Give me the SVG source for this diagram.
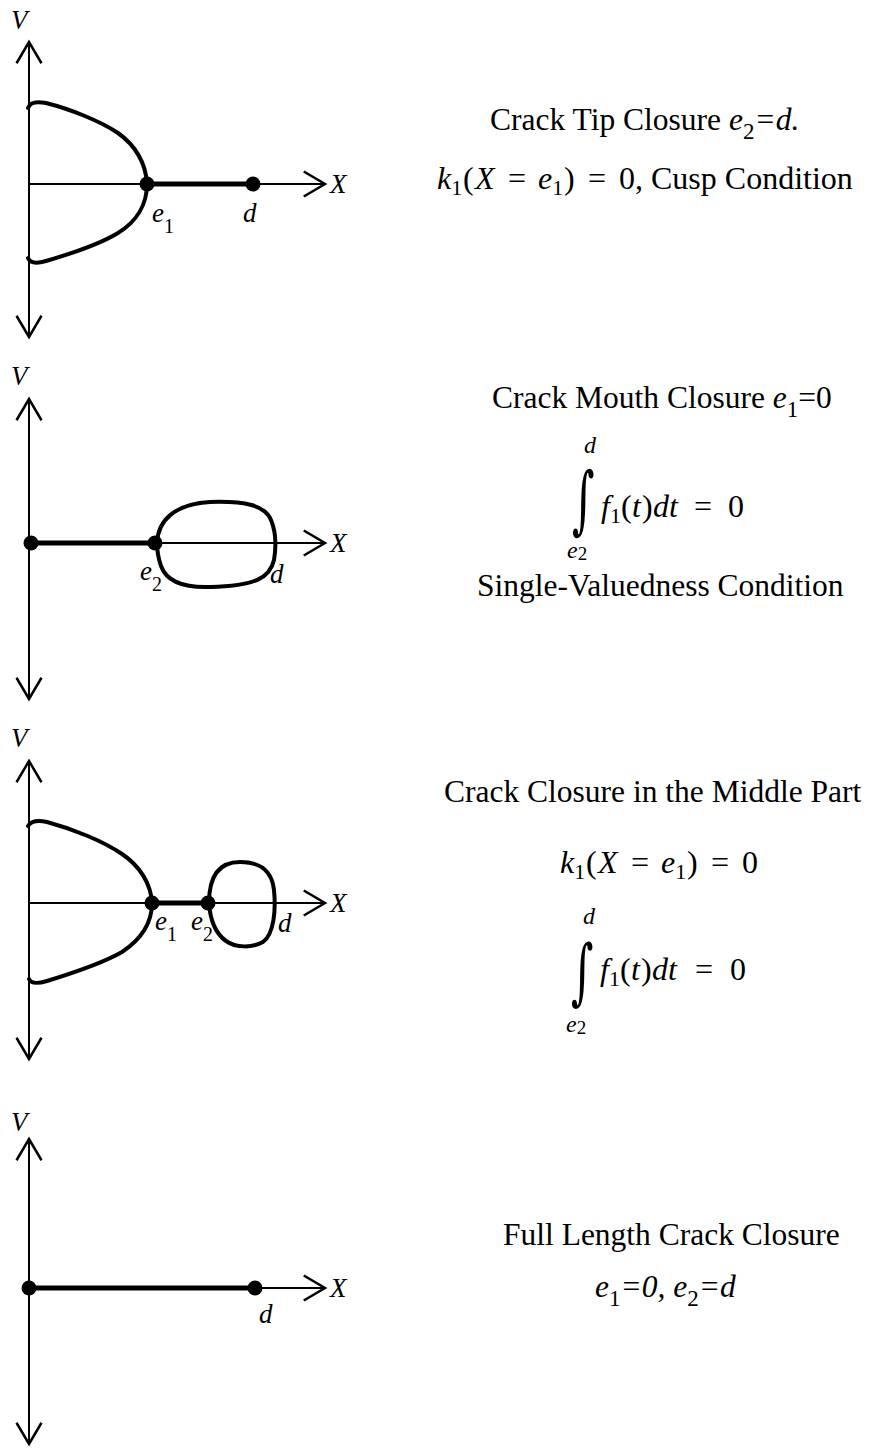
<svg xmlns="http://www.w3.org/2000/svg" width="870" height="1448" viewBox="0 0 870 1448">
<style>
  .ax{stroke:#000;stroke-width:2;fill:none}
  .thick{stroke:#000;stroke-width:5;fill:none}
  .crv{stroke:#000;stroke-width:4;fill:none;stroke-linejoin:round;stroke-linecap:round}
  .dot{fill:#000}
  .lbl{font-family:"Liberation Serif",serif;font-style:italic;font-size:27px;fill:#000}
  .sub{font-style:normal;font-size:20px}
  .t{font-family:"Liberation Serif",serif;font-size:31.5px;fill:#000}
  .ts{font-size:23px;font-style:normal}
  .m{font-family:"Liberation Serif",serif;font-size:32px;fill:#000}
  .i{font-style:italic}
  .ms{font-size:22px;font-style:normal}
  .lim{font-family:"Liberation Serif",serif;font-size:24px;font-style:italic;fill:#000}
  .lims{font-size:19px;font-style:normal}
  .int{font-family:"DejaVu Serif",serif;font-size:60px;fill:#000}
</style>
<defs>
  <marker id="arr" markerUnits="userSpaceOnUse" markerWidth="30" markerHeight="30" viewBox="-20 -12 24 24" refX="0" refY="0" orient="auto-start-reverse">
    <path d="M-17,-10 L0,0 L-17,10" stroke="#000" stroke-width="2" fill="none"/>
  </marker>
</defs>
<rect width="870" height="1448" fill="#fff"/>

<g id="axes">
  <line class="ax" x1="29" y1="42" x2="29" y2="337" marker-start="url(#arr)" marker-end="url(#arr)"/>
  <line class="ax" x1="29" y1="184" x2="325" y2="184" marker-end="url(#arr)"/>
  <line class="ax" x1="29" y1="399" x2="29" y2="699" marker-start="url(#arr)" marker-end="url(#arr)"/>
  <line class="ax" x1="29" y1="543" x2="325" y2="543" marker-end="url(#arr)"/>
  <line class="ax" x1="29" y1="761" x2="29" y2="1059" marker-start="url(#arr)" marker-end="url(#arr)"/>
  <line class="ax" x1="29" y1="903" x2="325" y2="903" marker-end="url(#arr)"/>
  <line class="ax" x1="29" y1="1139" x2="29" y2="1444" marker-start="url(#arr)" marker-end="url(#arr)"/>
  <line class="ax" x1="29" y1="1288" x2="325" y2="1288" marker-end="url(#arr)"/>
</g>

<g id="panel1">
  <path class="crv" d="M28,108 C30,102 36,101 46,103 C70,109 100,121 118,133 C135,145 146,163 147,184 C147,205 136,222 118,233 C100,244 70,254 46,261 C36,264 30,263 28,258"/>
  <line class="thick" x1="147" y1="184" x2="253" y2="184"/>
  <circle class="dot" cx="147" cy="184" r="7.5"/>
  <circle class="dot" cx="253" cy="184" r="7.5"/>
  <text class="lbl" x="11" y="29">V</text>
  <text class="lbl" x="330" y="193">X</text>
  <text class="lbl" x="152" y="222">e<tspan class="sub" dy="11">1</tspan></text>
  <text class="lbl" x="243" y="222">d</text>
  <text class="t" x="490" y="130">Crack Tip Closure <tspan class="i">e</tspan><tspan class="ts" dy="9">2</tspan><tspan class="i" dy="-9">=d.</tspan></text>
  <text class="m" y="189"><tspan class="i" x="437">k</tspan><tspan class="ms" dy="6">1</tspan><tspan x="463" dy="-6">(</tspan><tspan class="i" x="475">X</tspan><tspan x="508">=</tspan><tspan class="i" x="538">e</tspan><tspan class="ms" dy="6">1</tspan><tspan x="564" dy="-6">)</tspan><tspan x="588">=</tspan><tspan x="619">0</tspan><tspan x="635">, Cusp Condition</tspan></text>
</g>

<g id="panel2">
  <line class="thick" x1="31" y1="543" x2="155" y2="543"/>
  <path class="crv" d="M157,543 C158,520 175,504 210,502 C245,501 265,505 271,520 C276,532 276,548 274,560 C270,578 255,586 210,587 C180,588 166,580 161,566 C158,557 157,550 157,543 Z"/>
  <circle class="dot" cx="31" cy="543" r="7.5"/>
  <circle class="dot" cx="155" cy="543" r="7.5"/>
  <text class="lbl" x="11" y="385">V</text>
  <text class="lbl" x="330" y="552">X</text>
  <text class="lbl" x="140" y="580">e<tspan class="sub" dy="11">2</tspan></text>
  <text class="lbl" x="270" y="583">d</text>
  <text class="t" x="492" y="408">Crack Mouth Closure <tspan class="i">e</tspan><tspan class="ts" dy="9">1</tspan><tspan dy="-9">=0</tspan></text>
  <text class="int" transform="translate(572,525) scale(0.72,1.24)">∫</text>
  <text class="lim" x="584" y="453">d</text>
  <text class="lim" x="567" y="558">e<tspan class="lims" dy="2">2</tspan></text>
  <text class="m" y="517"><tspan class="i" x="601">f</tspan><tspan class="ms" dy="6">1</tspan><tspan x="621" dy="-6">(</tspan><tspan class="i" x="632">t</tspan><tspan x="642">)</tspan><tspan class="i" x="653">dt</tspan><tspan x="694">=</tspan><tspan x="728">0</tspan></text>
  <text class="t" x="477" y="596">Single-Valuedness Condition</text>
</g>

<g id="panel3">
  <path class="crv" d="M28,826 C31,821 37,820 47,822 C73,829 103,841 122,854 C140,866 151,884 152,903 C152,924 140,940 122,952 C103,963 73,973 47,981 C37,984 31,984 29,979"/>
  <line class="thick" x1="152" y1="903" x2="208" y2="903"/>
  <path class="crv" d="M209,903 C209,880 216,862 240,862 C262,862 272,872 274,890 C276,910 274,934 263,942 C252,948 236,948 226,941 C215,933 210,918 209,903 Z"/>
  <circle class="dot" cx="152" cy="903" r="7.5"/>
  <circle class="dot" cx="208" cy="903" r="7.5"/>
  <text class="lbl" x="11" y="747">V</text>
  <text class="lbl" x="330" y="912">X</text>
  <text class="lbl" x="155" y="930">e<tspan class="sub" dy="11">1</tspan></text>
  <text class="lbl" x="191" y="930">e<tspan class="sub" dy="11">2</tspan></text>
  <text class="lbl" x="278" y="932">d</text>
  <text class="t" x="444" y="802">Crack Closure in the Middle Part</text>
  <text class="m" y="873"><tspan class="i" x="560">k</tspan><tspan class="ms" dy="6">1</tspan><tspan x="586" dy="-6">(</tspan><tspan class="i" x="598">X</tspan><tspan x="631">=</tspan><tspan class="i" x="661">e</tspan><tspan class="ms" dy="6">1</tspan><tspan x="687" dy="-6">)</tspan><tspan x="711">=</tspan><tspan x="742">0</tspan></text>
  <text class="int" transform="translate(571,996) scale(0.72,1.2)">∫</text>
  <text class="lim" x="583" y="924">d</text>
  <text class="lim" x="566" y="1032">e<tspan class="lims" dy="2">2</tspan></text>
  <text class="m" y="980"><tspan class="i" x="600">f</tspan><tspan class="ms" dy="6">1</tspan><tspan x="620" dy="-6">(</tspan><tspan class="i" x="631">t</tspan><tspan x="641">)</tspan><tspan class="i" x="652">dt</tspan><tspan x="695">=</tspan><tspan x="730">0</tspan></text>
</g>

<g id="panel4">
  <line class="thick" x1="29" y1="1288" x2="255" y2="1288"/>
  <circle class="dot" cx="29" cy="1288" r="7.5"/>
  <circle class="dot" cx="255" cy="1288" r="7.5"/>
  <text class="lbl" x="11" y="1131">V</text>
  <text class="lbl" x="330" y="1297">X</text>
  <text class="lbl" x="259" y="1323">d</text>
  <text class="t" x="503" y="1245">Full Length Crack Closure</text>
  <text class="t i" x="595" y="1297">e<tspan class="ts" dy="9">1</tspan><tspan dy="-9">=0, e</tspan><tspan class="ts" dy="9">2</tspan><tspan dy="-9">=d</tspan></text>
</g>
</svg>
